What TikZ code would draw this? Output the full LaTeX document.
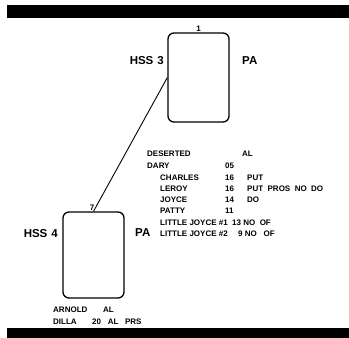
\documentclass[tikz,border=0pt]{standalone}
\usepackage{fontspec}
\setmainfont{Liberation Sans}
\usetikzlibrary{positioning}

\begin{document}
\begin{tikzpicture}[
    x=1pt, y=-1pt,
    hssbox/.style={
        rectangle,
        draw,
        rounded corners=6pt,
        line width=1.3pt,
        minimum width=61pt,
        minimum height=89pt
    },
    biglabel/.style={font=\fontsize{11.5}{12}\selectfont\bfseries, inner sep=1pt},
    smalltext/.style={font=\fontsize{8}{9}\selectfont\bfseries, inner sep=0pt, anchor=base west},
    link/.style={line width=0.9pt}
]
    \useasboundingbox (0,0) rectangle (349,338);

    % bars
    \fill (7,5) rectangle (349,18);
    \fill (7,328) rectangle (349,338);

    % boxes
    \node[hssbox] (hss3) at (198.5,77.5) {};
    \node[hssbox, minimum height=86pt] (hss4) at (93.5,255) {};

    \node[biglabel, anchor=south] (one) at (hss3.north) {\fontsize{8}{9}\selectfont 1};
    \node[biglabel, anchor=east] (hss3name) at (165,61) {HSS\hspace{4pt}3};
    \node[biglabel, anchor=west] (hss3pa) at (241,61) {PA};
    \node[biglabel, anchor=south east] (seven) at ([xshift=2pt]hss4.north) {\fontsize{8}{9}\selectfont 7};
    \node[biglabel, anchor=east] (hss4name) at (59,234) {HSS\hspace{4pt}4};
    \node[biglabel, anchor=west] (hss4pa) at (134,233) {PA};

    \draw[link] (hss3.west) -- (hss4.north);

    % roster
    \node[smalltext] (deserted) at (147,156) {DESERTED};
    \node[smalltext] (desertedal) at (242,156) {AL};
    \node[smalltext] (dary) at (147,168) {DARY};
    \node[smalltext] (darynum) at (225,168) {05};
    \node[smalltext] (charles) at (160,180) {CHARLES};
    \node[smalltext] (charlesnum) at (225,180) {16};
    \node[smalltext] (charlescode) at (247,180) {PUT};
    \node[smalltext] (leroy) at (160,191) {LEROY};
    \node[smalltext] (leroynum) at (225,191) {16};
    \node[smalltext] (leroycode) at (247,191) {PUT\ \ PROS\ \ NO\ \ DO};
    \node[smalltext] (joyce) at (160,202) {JOYCE};
    \node[smalltext] (joycenum) at (225,202) {14};
    \node[smalltext] (joycecode) at (247,202) {DO};
    \node[smalltext] (patty) at (160,213) {PATTY};
    \node[smalltext] (pattynum) at (225,213) {11};
    \node[smalltext] (ljone) at (160,225) {LITTLE\ JOYCE\ \#1};
    \node[smalltext] (ljonecode) at (232,225) {13\ NO\ \ OF};
    \node[smalltext] (ljtwo) at (160,236) {LITTLE\ JOYCE\ \#2};
    \node[smalltext] (ljtwocode) at (238,236) {9\ NO\ \ \ OF};

    \node[smalltext] (arnold) at (53,312) {ARNOLD};
    \node[smalltext] (arnoldal) at (103,312) {AL};
    \node[smalltext] (dilla) at (53,324) {DILLA};
    \node[smalltext] (dillacode) at (92,324) {20\ \ \ AL\ \ \ PRS};
\end{tikzpicture}
\end{document}
